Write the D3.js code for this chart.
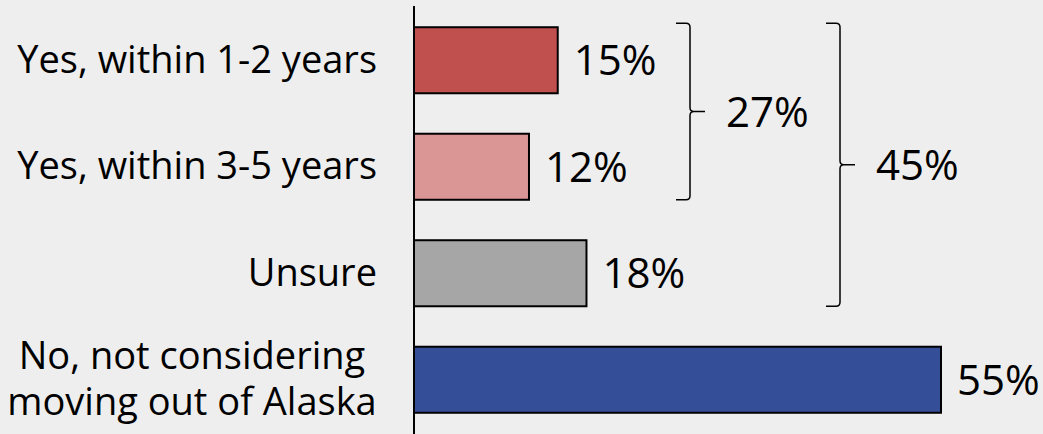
<!DOCTYPE html>
<html>
<head>
<meta charset="utf-8">
<script src="https://cdn.jsdelivr.net/npm/d3@7"></script>
<style>
  html, body { margin: 0; padding: 0; background: #eeeeee; }
  svg { display: block; }
  text { font-family: "Open Sans", Lato, sans-serif; fill: #000; }
</style>
</head>
<body>
<div id="chart"></div>
<script>
/* chart size */
const width = 1043;
const height = 434;

/* data */
const categories = ["Yes, within 1-2 years", "Yes, within 3-5 years", "Unsure", "No, not considering\nmoving out of Alaska"];
const values = [15, 12, 18, 55];
const barColors = ["#c0504d", "#d99694", "#a6a6a6", "#344f98"];
const bracketLabels = ["27%", "45%"];
const bracketFirst = [0, 0];
const bracketLast = [1, 2];

const axisX = 414;

const svg = d3.select("#chart")
  .append("svg")
    .attr("width", width)
    .attr("height", height);

const x = d3.scaleLinear()
  .domain([0, 55])
  .range([axisX, 941]);

const y = d3.scaleBand()
  .domain(categories)
  .range([7, 433])
  .paddingInner(0.38)
  .paddingOuter(0.19);

/* bars */
svg.selectAll("rect.bar")
  .data(values)
  .enter()
  .append("rect")
    .attr("class", "bar")
    .attr("x", x(0))
    .attr("y", (d, i) => y(categories[i]))
    .attr("width", d => x(d) - x(0))
    .attr("height", y.bandwidth())
    .attr("fill", (d, i) => barColors[i])
    .attr("stroke", "#000")
    .attr("stroke-width", 2);

/* value labels */
svg.selectAll("text.value")
  .data(values)
  .enter()
  .append("text")
    .attr("class", "value")
    .attr("x", d => x(d) + 16)
    .attr("y", (d, i) => y(categories[i]) + y.bandwidth() / 2)
    .attr("dy", "0.36em")
    .attr("font-size", 42)
    .text(d => d + "%");

/* category labels, the two-line one is written as two separate texts */
categories.forEach((c, i) => {
  const lines = c.split("\n");
  const cy = y(c) + y.bandwidth() / 2 - 1;
  const lx = lines.length > 1 ? 192 : 377;
  lines.forEach((line, j) => {
    svg.append("text")
      .attr("font-size", 38)
      .attr("text-anchor", lines.length > 1 ? "middle" : "end")
      .attr("x", lx)
      .attr("y", cy + (j - (lines.length - 1) / 2) * 46)
      .attr("dy", "0.36em")
      .text(line);
  });
});

/* axis line */
svg.append("line")
  .attr("x1", axisX).attr("x2", axisX)
  .attr("y1", 6).attr("y2", height)
  .attr("stroke", "#000")
  .attr("stroke-width", 2);

/* brackets */
const bracketX = [690, 840];
bracketLabels.forEach((lab, i) => {
  const top = y(categories[bracketFirst[i]]) - 4;
  const bot = y(categories[bracketLast[i]]) + y.bandwidth();
  const mid = (top + bot) / 2;
  const bx = bracketX[i];
  const p = d3.path();
  p.moveTo(bx - 14, top);
  p.lineTo(bx - 4, top);
  p.quadraticCurveTo(bx, top, bx, top + 4);
  p.lineTo(bx, mid - 4);
  p.quadraticCurveTo(bx, mid, bx + 4, mid);
  p.lineTo(bx + 15, mid);
  p.moveTo(bx + 4, mid);
  p.quadraticCurveTo(bx, mid, bx, mid + 4);
  p.lineTo(bx, bot - 4);
  p.quadraticCurveTo(bx, bot, bx - 4, bot);
  p.lineTo(bx - 14, bot);
  svg.append("path")
    .attr("d", p.toString())
    .attr("fill", "none")
    .attr("stroke", "#000")
    .attr("stroke-width", 1.5);
  svg.append("text")
    .attr("x", bx + 36)
    .attr("y", mid)
    .attr("dy", "0.36em")
    .attr("font-size", 42)
    .text(lab);
});
</script>
</body>
</html>
